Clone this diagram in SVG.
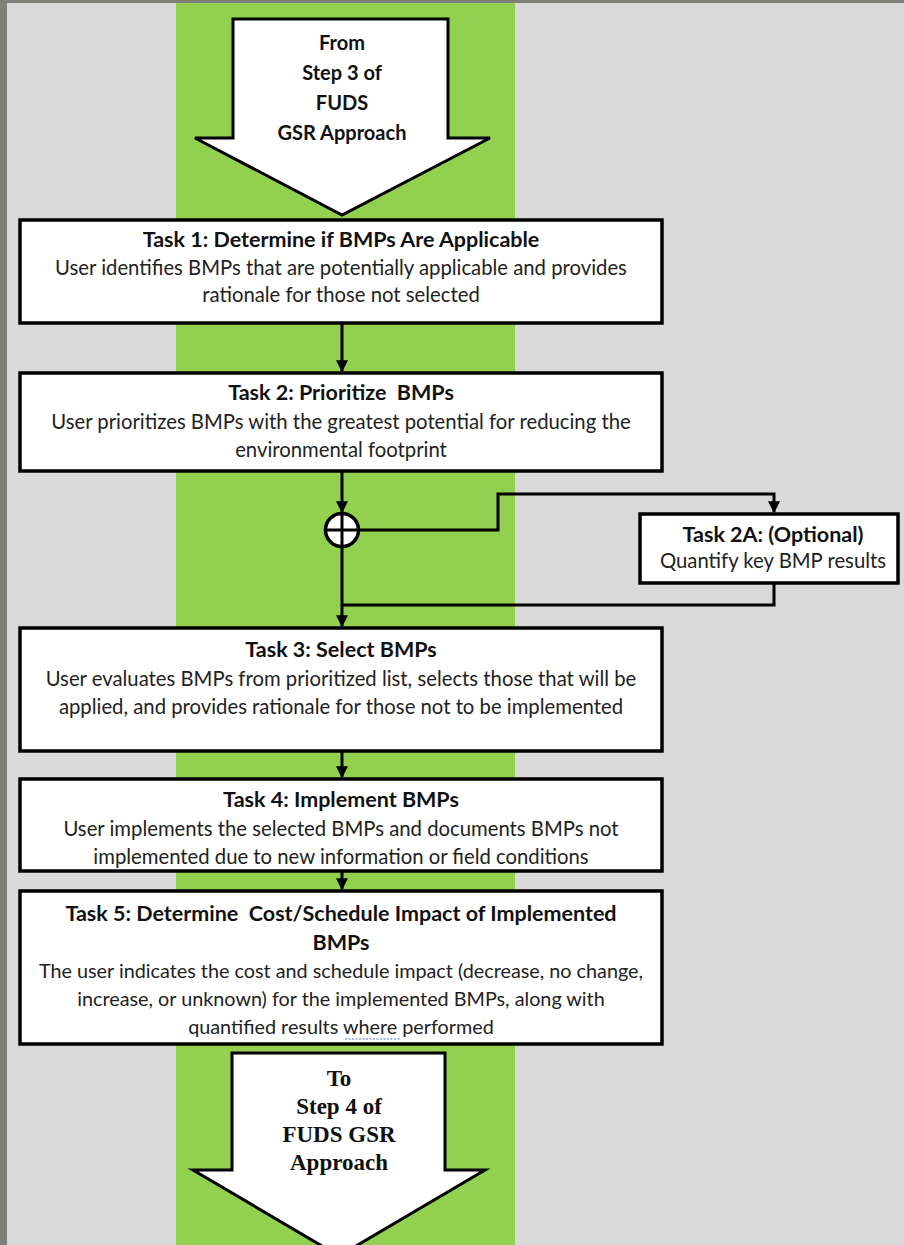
<svg xmlns="http://www.w3.org/2000/svg" width="904" height="1245" viewBox="0 0 904 1245">
<defs>
<style>
.box{fill:#fff;stroke:#000;stroke-width:3.5}
.big{fill:#fff;stroke:#000;stroke-width:3;stroke-linejoin:miter}
.t{font-family:Lato,"Liberation Sans",sans-serif;font-size:21.5px;font-weight:bold;fill:#111;text-anchor:middle}
.b{font-family:Lato,"Liberation Sans",sans-serif;font-size:20.3px;fill:#222;text-anchor:middle}
.s{font-size:19.8px}
.a{font-size:20px}
.tt{font-family:"Liberation Serif",serif;font-size:23px;font-weight:bold;fill:#111;text-anchor:middle}
.ln{fill:none;stroke:#000;stroke-width:3}
</style>
<marker id="ah" viewBox="0 0 10 10" refX="9" refY="5" markerWidth="4" markerHeight="4" orient="auto" markerUnits="strokeWidth">
<path d="M0,0 L10,5 L0,10 z" fill="#000"/>
</marker>
</defs>
<rect x="0" y="0" width="904" height="1245" fill="#808078"/>
<rect x="7" y="3" width="897" height="1242" fill="#d9d9d9"/>
<rect x="176" y="3" width="339" height="1242" fill="#92d050"/>

<g id="connectors">
<path class="ln" d="M342,324 V371" marker-end="url(#ah)"/>
<path class="ln" d="M342,472 V512" marker-end="url(#ah)"/>
<path class="ln" d="M358,530 H498 V494 H774 V512" marker-end="url(#ah)"/>
<path class="ln" d="M774,583 V605 H342"/>
<path class="ln" d="M342,547 V626" marker-end="url(#ah)"/>
<path class="ln" d="M342,751 V777" marker-end="url(#ah)"/>
<path class="ln" d="M342,872 V889" marker-end="url(#ah)"/>
</g>

<g id="from-step3">
<polygon class="big" points="233,19 448,19 448,138 490,138 342,215 195,138 233,138"/>
<text class="t a" x="342" y="50">From</text>
<text class="t a" x="342" y="80">Step 3 of</text>
<text class="t a" x="342" y="110">FUDS</text>
<text class="t a" x="342" y="140">GSR Approach</text>
</g>

<g id="task1">
<rect class="box" x="20" y="220" width="642" height="103"/>
<text class="t" x="341" y="247">Task 1: Determine if BMPs Are Applicable</text>
<text class="b" x="341" y="275">User identifies BMPs that are potentially applicable and provides</text>
<text class="b" x="341" y="302">rationale for those not selected</text>
</g>

<g id="task2">
<rect class="box" x="20" y="373" width="642" height="98"/>
<text class="t" x="341" y="400" xml:space="preserve">Task 2: Prioritize  BMPs</text>
<text class="b" x="341" y="429">User prioritizes BMPs with the greatest potential for reducing the</text>
<text class="b" x="341" y="457">environmental footprint</text>
</g>

<g id="junction">
<circle cx="342" cy="530" r="16.5" fill="#fff" stroke="#000" stroke-width="3.5"/>
<path d="M342,514 V546 M326,530 H358" stroke="#000" stroke-width="3"/>
</g>

<g id="task2a">
<rect class="box" x="640" y="514" width="258" height="69"/>
<text class="t" x="773" y="542">Task 2A: (Optional)</text>
<text class="b" x="773" y="568">Quantify key BMP results</text>
</g>

<g id="task3">
<rect class="box" x="20" y="628" width="642" height="123"/>
<text class="t" x="341" y="657">Task 3: Select BMPs</text>
<text class="b" x="341" y="686">User evaluates BMPs from prioritized list, selects those that will be</text>
<text class="b" x="341" y="714">applied, and provides rationale for those not to be implemented</text>
</g>

<g id="task4">
<rect class="box" x="20" y="779" width="642" height="92"/>
<text class="t" x="341" y="807">Task 4: Implement BMPs</text>
<text class="b" x="341" y="836">User implements the selected BMPs and documents BMPs not</text>
<text class="b" x="341" y="864">implemented due to new information or field conditions</text>
</g>

<g id="task5">
<rect class="box" x="20" y="891" width="642" height="153"/>
<text class="t" x="341" y="921" xml:space="preserve">Task 5: Determine  Cost/Schedule Impact of Implemented</text>
<text class="t" x="341" y="950">BMPs</text>
<text class="b s" x="341" y="978">The user indicates the cost and schedule impact (decrease, no change,</text>
<text class="b s" x="341" y="1006">increase, or unknown) for the implemented BMPs, along with</text>
<text class="b s" x="341" y="1034">quantified results where performed</text>
<path d="M345,1039 H400" stroke="#4a6ed0" stroke-width="1.2" stroke-dasharray="2,1.5" fill="none"/>
</g>

<g id="to-step4">
<polygon class="big" points="232,1053 445,1053 445,1170 485,1170 339,1256 193,1170 232,1170"/>
<text class="tt" x="339" y="1086">To</text>
<text class="tt" x="339" y="1114">Step 4 of</text>
<text class="tt" x="339" y="1142">FUDS GSR</text>
<text class="tt" x="339" y="1170">Approach</text>
</g>
</svg>
